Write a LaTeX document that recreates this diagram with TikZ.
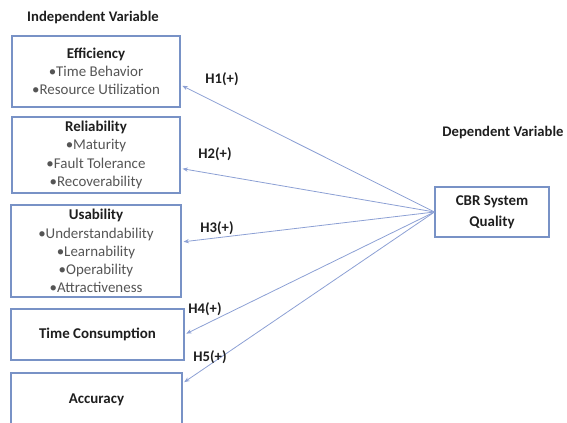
\documentclass[tikz,border=0pt]{standalone}
\usepackage{fontspec}
\setmainfont{Carlito}
\usepackage{tikz}
\usetikzlibrary{arrows.meta}
\definecolor{ModelBorder}{RGB}{120,146,198}
\definecolor{ModelArrow}{RGB}{140,160,212}
\definecolor{ModelText}{RGB}{85,85,85}
\definecolor{ModelHead}{RGB}{30,30,30}

\begin{document}
\begin{tikzpicture}[
x=0.75pt,
y=-0.75pt,
factor/.style={
draw=ModelBorder,
line width=0.8pt,
align=center,
inner sep=0pt,
text=ModelText,
font=\fontsize{11.2}{13.6}\selectfont
},
hyp/.style={
draw=ModelArrow,
line width=0.6pt,
-{Stealth[length=4pt,width=3.2pt]},
shorten >=1.5pt
},
tag/.style={
text=ModelHead,
font=\fontsize{11}{12}\selectfont\bfseries
}
]
\useasboundingbox (0,0) rectangle (567,423);

\node[tag] (indep) at (93,18) {Independent Variable};
\node[tag] (dep) at (503,133) {Dependent Variable};

\node[factor,minimum width=126pt,minimum height=53.25pt] (eff) at (96,71.5)
{{\color{ModelHead}\bfseries Efficiency}\\•Time Behavior\\•Resource Utilization};
\node[factor,minimum width=126pt,minimum height=57pt] (rel) at (96,155)
{{\color{ModelHead}\bfseries Reliability}\\•Maturity\\•Fault Tolerance\\•Recoverability};
\node[factor,minimum width=127.5pt,minimum height=69pt] (usa) at (96,251)
{{\color{ModelHead}\bfseries Usability}\\•Understandability\\•Learnability\\•Operability\\•Attractiveness};
\node[factor,minimum width=129.75pt,minimum height=38.25pt,text=ModelHead,font=\fontsize{11.2}{13.6}\selectfont\bfseries] (time) at (97.5,334.5)
{Time Consumption};
\node[factor,minimum width=128.25pt,minimum height=40.5pt,text=ModelHead,font=\fontsize{11.2}{13.6}\selectfont\bfseries] (acc) at (96.5,400)
{Accuracy};

\node[factor,minimum width=85.5pt,minimum height=37.5pt,text=ModelHead,font=\fontsize{11.2}{15.5}\selectfont\bfseries] (cbr) at (492,212)
{CBR System\\Quality};

\draw[hyp] (cbr.west) -- (eff.-9);
\draw[hyp] (cbr.west) -- (rel.-9);
\draw[hyp] (cbr.west) -- (usa.6);
\draw[hyp] (cbr.west) -- (time.east);
\draw[hyp] (cbr.west) -- (acc.11);

\node[tag] (h1) at (222,79) {H1(+)};
\node[tag] (h2) at (215,154) {H2(+)};
\node[tag] (h3) at (217,228) {H3(+)};
\node[tag] (h4) at (205,309) {H4(+)};
\node[tag] (h5) at (210,357) {H5(+)};

\end{tikzpicture}
\end{document}
